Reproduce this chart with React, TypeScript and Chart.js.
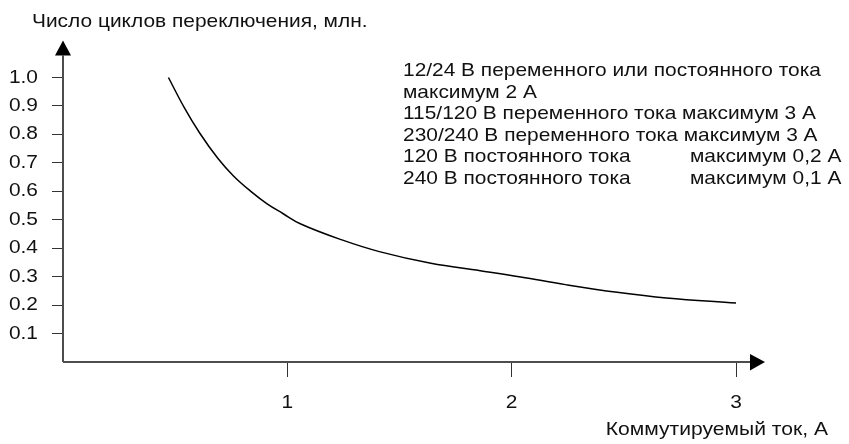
import React, { useEffect, useRef } from "react";
import { Chart, registerables } from "chart.js";

Chart.register(...registerables);

const currentA = [0.47, 0.54, 0.61, 0.69, 0.76, 0.84, 0.91, 0.98, 1.06, 1.24, 1.41, 1.64, 1.86, 2.04, 2.24, 2.47, 2.69, 3.0];
const cyclesMln = [1.0, 0.895, 0.804, 0.716, 0.654, 0.598, 0.556, 0.522, 0.485, 0.43, 0.388, 0.347, 0.321, 0.299, 0.272, 0.245, 0.225, 0.207];
const yTickValues = [0.1, 0.2, 0.3, 0.4, 0.5, 0.6, 0.7, 0.8, 0.9, 1.0];
const xTickValues = [1, 2, 3];
const yTitle = "Число циклов переключения, млн.";
const xTitle = "Коммутируемый ток, А";
const noteLines = [
  "12/24 В переменного или постоянного тока",
  "максимум 2 А",
  "115/120 В переменного тока максимум 3 А",
  "230/240 В переменного тока максимум 3 А",
];
const noteRows = [
  ["120 В постоянного тока", "максимум 0,2 А"],
  ["240 В постоянного тока", "максимум 0,1 А"],
];

const FONT = "'Liberation Sans', Arial, sans-serif";
const FONT_PX = 18.5;
const SX = 1.13; // horizontal stretch of the reference lettering

function drawText(ctx: any, text: string, x: number, y: number, align: string, sx = SX) {
  ctx.save();
  ctx.translate(x, y);
  ctx.scale(sx, 1);
  ctx.textAlign = align;
  ctx.textBaseline = "middle";
  ctx.fillText(text, 0, 0);
  ctx.restore();
}

const decorPlugin = {
  id: "decor",
  afterDraw(chart: any) {
    const ctx = chart.ctx;
    const xs = chart.scales.x;
    const ys = chart.scales.y;
    const x0 = xs.getPixelForValue(0);
    const y0 = ys.getPixelForValue(0);
    const yTop = ys.getPixelForValue(1.0);
    const xEnd = xs.getPixelForValue(3);
    ctx.save();
    // axes
    ctx.strokeStyle = "#4d4d4d";
    ctx.lineWidth = 2;
    ctx.beginPath();
    ctx.moveTo(x0, y0);
    ctx.lineTo(x0, yTop - 22);
    ctx.moveTo(x0, y0);
    ctx.lineTo(xEnd + 15, y0);
    ctx.stroke();
    // arrows
    ctx.fillStyle = "#000";
    ctx.beginPath();
    ctx.moveTo(x0, yTop - 37);
    ctx.lineTo(x0 - 8, yTop - 22);
    ctx.lineTo(x0 + 8, yTop - 22);
    ctx.closePath();
    ctx.fill();
    ctx.beginPath();
    ctx.moveTo(xEnd + 29, y0);
    ctx.lineTo(xEnd + 14, y0 - 8);
    ctx.lineTo(xEnd + 14, y0 + 8.5);
    ctx.closePath();
    ctx.fill();
    // texts
    ctx.fillStyle = "#111";
    ctx.font = `${FONT_PX}px ${FONT}`;
    yTickValues.forEach((v) => drawText(ctx, v.toFixed(1), 38, ys.getPixelForValue(v), "right"));
    xTickValues.forEach((v) => drawText(ctx, String(v), xs.getPixelForValue(v), 403, "center"));
    drawText(ctx, yTitle, 32, 22, "left");
    drawText(ctx, xTitle, 828, 430, "right", 1.14);
    let ly = 71;
    noteLines.forEach((t) => {
      drawText(ctx, t, 403, ly, "left");
      ly += 21.6;
    });
    noteRows.forEach((r) => {
      drawText(ctx, r[0], 403, ly, "left");
      drawText(ctx, r[1], 690, ly, "left");
      ly += 21.6;
    });
    ctx.restore();
  },
};

export default function App() {
  const ref = useRef<HTMLCanvasElement | null>(null);
  useEffect(() => {
    if (!ref.current) return;
    const chart = new Chart(ref.current, {
      type: "line",
      data: {
        datasets: [
          {
            data: currentA.map((x, i) => ({ x, y: cyclesMln[i] })),
            borderColor: "#000",
            borderWidth: 1.5,
            pointRadius: 0,
            tension: 0.4,
            fill: false,
          },
        ],
      },
      options: {
        animation: false,
        responsive: true,
        maintainAspectRatio: false,
        layout: { padding: { left: 0, top: 77.5, right: 113, bottom: 0 } },
        plugins: { legend: { display: false }, tooltip: { enabled: false } },
        scales: {
          x: {
            type: "linear",
            min: 0,
            max: 3,
            afterFit: (s: any) => {
              s.height = 82;
            },
            afterBuildTicks: (s: any) => {
              s.ticks = xTickValues.map((v) => ({ value: v }));
            },
            grid: { drawOnChartArea: false, drawTicks: true, tickLength: 15, color: "#333", lineWidth: 1 },
            border: { display: false },
            ticks: { display: false },
          },
          y: {
            type: "linear",
            min: 0,
            max: 1.0,
            afterFit: (s: any) => {
              s.width = 63;
            },
            afterBuildTicks: (s: any) => {
              s.ticks = yTickValues.map((v) => ({ value: v }));
            },
            grid: { drawOnChartArea: false, drawTicks: true, tickLength: 11, color: "#333", lineWidth: 1 },
            border: { display: false },
            ticks: { display: false },
          },
        },
        clip: false as any,
      },
      plugins: [decorPlugin],
    });
    return () => chart.destroy();
  }, []);
  return (
    <div style={{ position: "absolute", left: 0, top: 0, width: 849, height: 444, background: "#fff" }}>
      <canvas ref={ref} />
    </div>
  );
}
